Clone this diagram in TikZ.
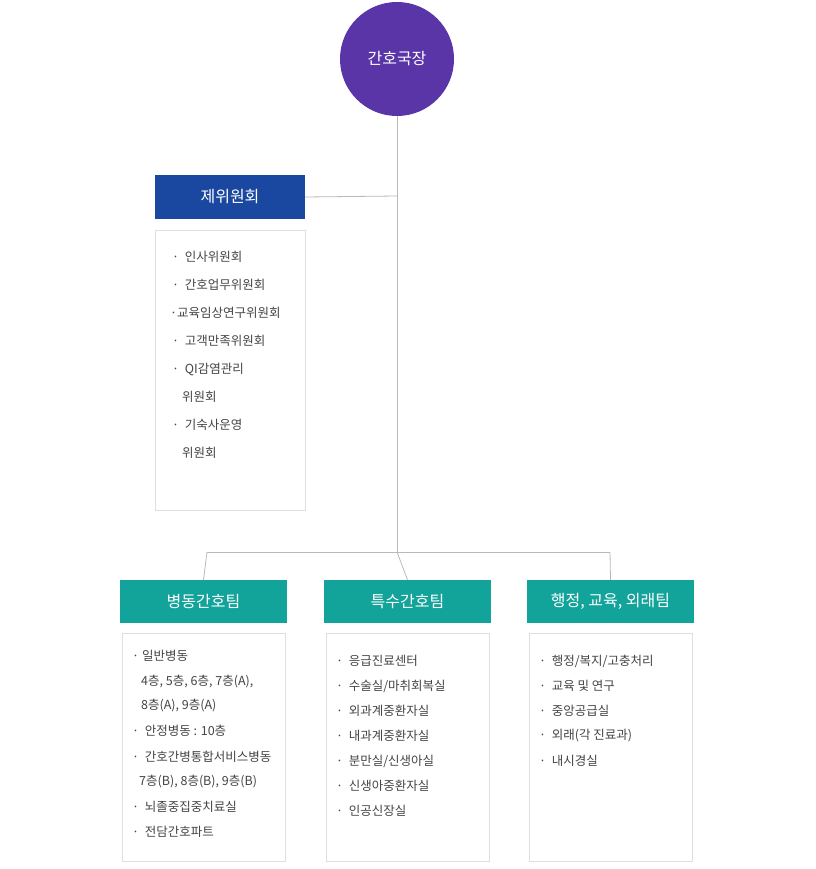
\documentclass[tikz,border=0pt]{standalone}
\usepackage{fontspec}
\setmainfont{Noto Sans CJK KR}
\begin{document}
\begin{tikzpicture}[x=1pt,y=-1pt,
  conn/.style={draw=gray!55,line width=0.8pt},
  lbox/.style={draw=gray!25,line width=0.8pt,fill=white},
  team/.style={fill=teal1,text=white,minimum width=167pt,minimum height=43pt,inner sep=0pt,font=\fontsize{16}{18}\selectfont},
  item/.style={anchor=west,text=txt,font=\fontsize{12.5}{14}\selectfont,inner sep=0pt}]
\definecolor{teal1}{HTML}{12A39A}
\definecolor{blue1}{HTML}{1A47A0}
\definecolor{purp}{HTML}{5A35A8}
\definecolor{txt}{HTML}{444444}
\useasboundingbox (0,0) rectangle (815,869);
\node[circle,fill=purp,minimum size=114pt,text=white,font=\fontsize{16}{18}\selectfont] (top) at (397,59) {간호국장};
\coordinate (j1) at (397,196);
\coordinate (j2) at (397,552);
\coordinate (l) at (207,552);
\coordinate (r) at (610,552);
\node[fill=blue1,text=white,minimum width=150pt,minimum height=44pt,inner sep=0pt,font=\fontsize{16}{18}\selectfont] (com) at (230,197) {제위원회};
\draw[conn] (top) -- (j2);
\draw[conn] (com.east) -- (j1);
\draw[conn] (l) -- (r);
\node[team] (t1) at (203.5,601.5) {병동간호팀};
\node[team] (t2) at (407.5,601.5) {특수간호팀};
\node[team] (t3) at (610.5,601.5) {행정, 교육, 외래팀};
\draw[conn] (l) -- (t1.north);
\draw[conn] (j2) -- (t2.north);
\draw[conn] (r) -- (t3.north);
\node[lbox,minimum width=150pt,minimum height=280pt,inner sep=0pt] (cl) at (230,370) {};
\node[lbox,minimum width=163pt,minimum height=228pt,inner sep=0pt] (l1) at (203.5,747) {};
\node[lbox,minimum width=163pt,minimum height=228pt,inner sep=0pt] (l2) at (407.5,747) {};
\node[lbox,minimum width=163pt,minimum height=228pt,inner sep=0pt] (l3) at (610.5,747) {};
% committee list
\node[item] (c1) at (172,257) {·\ \ 인사위원회};
\node[item] (c2) at (172,285) {·\ \ 간호업무위원회};
\node[item] (c3) at (170,313) {·교육임상연구위원회};
\node[item] (c4) at (172,341) {·\ \ 고객만족위원회};
\node[item] (c5) at (172,369) {·\ \ QI감염관리};
\node[item] (c6) at (182,397) {위원회};
\node[item] (c7) at (172,425) {·\ \ 기숙사운영};
\node[item] (c8) at (182,453) {위원회};
% team 1
\node[item] (a1) at (132,656) {· 일반병동};
\node[item] (a2) at (141,682) {4층, 5층, 6층, 7층(A),};
\node[item] (a3) at (141,706) {8층(A), 9층(A)};
\node[item] (a4) at (132,731) {·\ \ 안정병동 : 10층};
\node[item] (a5) at (132,757) {·\ \ 간호간병통합서비스병동};
\node[item] (a6) at (139,782) {7층(B), 8층(B), 9층(B)};
\node[item] (a7) at (132,807) {·\ \ 뇌졸중집중치료실};
\node[item] (a8) at (132,832) {·\ \ 전담간호파트};
% team 2
\node[item] (b1) at (336,661) {·\ \ 응급진료센터};
\node[item] (b2) at (336,686) {·\ \ 수술실/마취회복실};
\node[item] (b3) at (336,711) {·\ \ 외과계중환자실};
\node[item] (b4) at (336,736) {·\ \ 내과계중환자실};
\node[item] (b5) at (336,761) {·\ \ 분만실/신생아실};
\node[item] (b6) at (336,786) {·\ \ 신생아중환자실};
\node[item] (b7) at (336,811) {·\ \ 인공신장실};
% team 3
\node[item] (d1) at (539,661) {·\ \ 행정/복지/고충처리};
\node[item] (d2) at (539,686) {·\ \ 교육 및 연구};
\node[item] (d3) at (539,711) {·\ \ 중앙공급실};
\node[item] (d4) at (539,736) {·\ \ 외래(각 진료과)};
\node[item] (d5) at (539,761) {·\ \ 내시경실};
\end{tikzpicture}
\end{document}
